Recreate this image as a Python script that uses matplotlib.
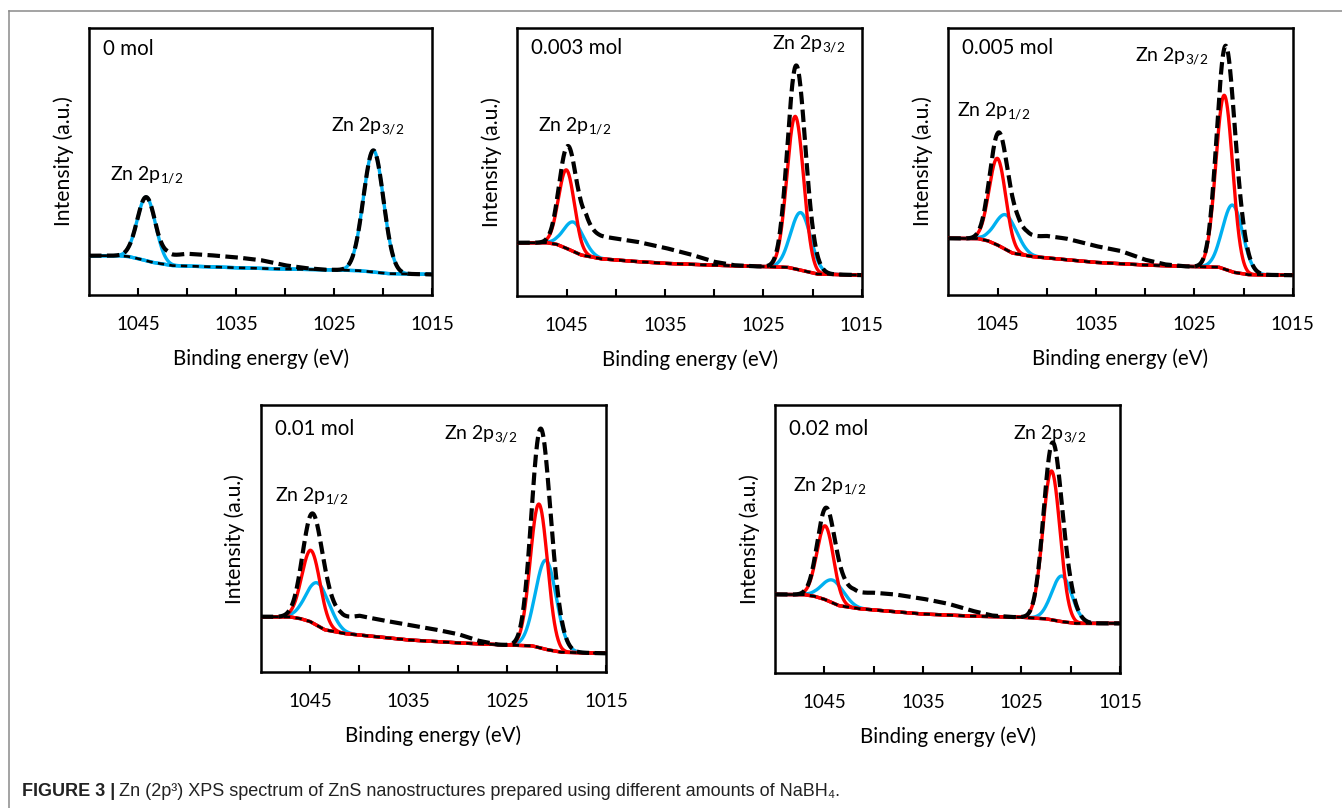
import numpy as np
import matplotlib.pyplot as plt
from matplotlib.lines import Line2D

plt.rcParams['font.family'] = ['Lato', 'DejaVu Sans']
plt.rcParams['mathtext.fontset'] = 'custom'
plt.rcParams['mathtext.rm'] = 'Lato'
plt.rcParams['mathtext.it'] = 'Lato:italic'
plt.rcParams['mathtext.bf'] = 'Lato:bold'

RED = '#ff0000'
BLUE = '#00b0f0'

amounts = ['0 mol', '0.003 mol', '0.005 mol', '0.01 mol', '0.02 mol']

energy_ticks = [1045, 1040, 1035, 1030, 1025, 1020, 1015]
energy_labels = ['1045', '', '1035', '', '1025', '', '1015']

# Shirley-type background, sampled at bg_energy (eV)
bg_energy = [1050, 1047, 1046, 1045, 1043.5, 1041.5, 1038, 1035, 1030, 1025, 1022.5, 1021, 1019.5, 1015]
bg_0 = [14.7, 14.7, 14.4, 13.6, 12.2, 11.0, 10.6, 10.2, 9.7, 9.4, 9.1, 8.6, 8.0, 7.7]
bg_003 = [19.9, 19.9, 19.3, 17.8, 15.3, 13.9, 12.9, 12.2, 11.5, 11.0, 10.7, 9.5, 8.2, 7.8]
bg_005 = [21.2, 21.1, 20.3, 18.7, 15.7, 14.4, 13.2, 12.2, 11.2, 10.6, 10.4, 8.5, 7.6, 7.4]
bg_01 = [20.8, 20.7, 20.1, 19.0, 15.9, 14.5, 13.2, 12.1, 11.0, 10.2, 9.9, 8.5, 7.5, 7.1]
bg_02 = [29.4, 29.3, 28.7, 27.6, 25.2, 24.1, 23.0, 22.1, 21.3, 20.9, 20.3, 19.3, 18.6, 18.6]

# energy-loss shoulder sitting on top of the fitted peaks in the measured envelope
tail_energy = [1045, 1044, 1043, 1042, 1040, 1038, 1035, 1032.5, 1030, 1028, 1026, 1015]
tail_0 = [0, 0, 0.5, 3.5, 4.6, 4.4, 3.9, 3.1, 1.4, 0.5, 0, 0]
tail_003 = [0, 3.0, 9.0, 8.5, 8.0, 7.5, 5.8, 3.8, 1.3, 0.2, 0, 0]
tail_005 = [0, 1.5, 5.0, 7.0, 8.2, 7.9, 6.1, 4.8, 2.0, 0.5, 0, 0]
tail_01 = [0, 0.5, 2.5, 5.0, 7.2, 6.5, 5.6, 4.6, 3.3, 1.2, 0, 0]
tail_02 = [0, 1.0, 3.5, 5.6, 6.4, 6.5, 5.7, 4.3, 2.0, 0.4, 0, 0]

# fitted components: (centre eV, height above background, FWHM eV)
blue_0 = [(1044.15, 23.8, 2.2), (1021.0, 45.5, 2.4)]
red_0 = []
blue_003 = [(1044.25, 11.0, 2.4), (1021.2, 21.5, 2.4)]
red_003 = [(1045.0, 29.3, 1.9), (1021.75, 57.0, 2.0)]
blue_005 = [(1044.1, 13.0, 2.6), (1021.1, 25.0, 2.4)]
red_005 = [(1045.0, 32.4, 2.0), (1021.95, 65.0, 2.0)]
blue_01 = [(1044.2, 16.0, 2.8), (1021.1, 33.3, 2.5)]
red_01 = [(1044.9, 26.8, 2.2), (1021.8, 53.7, 2.05)]
blue_02 = [(1044.1, 8.5, 2.6), (1020.9, 17.0, 2.4)]
red_02 = [(1044.9, 27.5, 2.0), (1021.95, 55.5, 2.05)]

# peak label anchors (left edge eV, baseline intensity) for 2p1/2 and 2p3/2
labels_0 = [(1047.9, 43.0), (1025.3, 61.1)]
labels_003 = [(1047.9, 61.6), (1024.15, 92.2)]
labels_005 = [(1049.1, 66.7), (1031.0, 87.3)]
labels_01 = [(1048.5, 63.8), (1031.4, 87.2)]
labels_02 = [(1048.15, 67.7), (1025.85, 87.2)]

backgrounds = [bg_0, bg_003, bg_005, bg_01, bg_02]
tails = [tail_0, tail_003, tail_005, tail_01, tail_02]
blues = [blue_0, blue_003, blue_005, blue_01, blue_02]
reds = [red_0, red_003, red_005, red_01, red_02]
peak_labels = [labels_0, labels_003, labels_005, labels_01, labels_02]

# axes boxes in pixels: left, top, right, bottom
W, H = 1342, 808
boxes = [(89, 27.7, 432.3, 295), (517.3, 28.3, 861.7, 296), (948.3, 27.7, 1292.7, 295),
         (260.7, 405, 606, 672.3), (775, 405, 1120, 673.3)]
amount_y = [0.898, 0.903, 0.9, 0.888, 0.888]


def gauss(e, centre, height, fwhm):
    sigma = fwhm / 2.3548
    return height * np.exp(-0.5 * ((e - centre) / sigma) ** 2)


fig = plt.figure(figsize=(W / 100, H / 100), dpi=100)

e = np.linspace(1050, 1015, 1401)
for i in range(5):
    l, t, r, b = boxes[i]
    ax = fig.add_axes([l / W, 1 - b / H, (r - l) / W, (b - t) / H])
    bg = np.interp(e, bg_energy[::-1], backgrounds[i][::-1])
    tail = np.interp(e, tail_energy[::-1], tails[i][::-1])

    env = bg + tail
    for c, h, w in blues[i]:
        comp = gauss(e, c, h, w)
        env = env + comp
        ax.plot(e, bg + comp, color=BLUE, lw=2.4, zorder=2)
    for c, h, w in reds[i]:
        comp = gauss(e, c, h, w)
        env = env + comp
        ax.plot(e, bg + comp, color=RED, lw=2.4, zorder=3)

    bg_color = RED if reds[i] else BLUE
    ax.plot(bg_energy, backgrounds[i], color=bg_color, lw=2.4, zorder=4)
    ax.plot(bg_energy, backgrounds[i], color='black', lw=1.9, dashes=(2.4, 2.0), zorder=5)
    ax.plot(e, env, color='black', lw=3.0, dashes=(3.0, 1.3), zorder=6)

    ax.set_xlim(1050, 1015)
    ax.set_ylim(0, 100)
    ax.set_yticks([])
    ax.set_xticks(energy_ticks)
    ax.set_xticklabels(energy_labels)
    ax.tick_params(axis='x', direction='in', length=5, width=1.5, pad=15, labelsize=13.5)
    for s in ax.spines.values():
        s.set_linewidth(1.8)
    ax.set_xlabel('Binding energy (eV)', fontsize=14.8, labelpad=11)
    ax.set_ylabel('Intensity (a.u.)', fontsize=15.2, labelpad=11)

    ax.text(0.04, amount_y[i], amounts[i], transform=ax.transAxes, fontsize=14.8,
            ha='left', va='baseline')
    (x1, y1), (x3, y3) = peak_labels[i]
    ax.text(x1, y1, r'Zn 2p$_{1/2}$', fontsize=14, ha='left', va='baseline')
    ax.text(x3, y3, r'Zn 2p$_{3/2}$', fontsize=14, ha='left', va='baseline')

# thin grey frame along the top and left of the figure
fig.add_artist(Line2D([9.3 / W, 9.3 / W], [0, 1 - 10.7 / H], color='#8a8a8a', lw=1.1))
fig.add_artist(Line2D([9.3 / W, 1], [1 - 10.7 / H, 1 - 10.7 / H], color='#8a8a8a', lw=1.1))

cap_font = ['Liberation Sans', 'DejaVu Sans']
head = fig.text(22 / W, 1 - 791 / H, 'FIGURE 3 |', family=cap_font, fontweight='bold',
                fontsize=13, color='#222222', va='center')
renderer = fig.canvas.get_renderer()
bb = head.get_window_extent(renderer)
fig.text(bb.x1 / W + 4 / W, 1 - 791 / H,
         'Zn (2p\u00b3) XPS spectrum of ZnS nanostructures prepared using different amounts of NaBH\u2084.',
         family=cap_font, fontsize=13, color='#222222', va='center')

fig.savefig('out.png', dpi=100)
